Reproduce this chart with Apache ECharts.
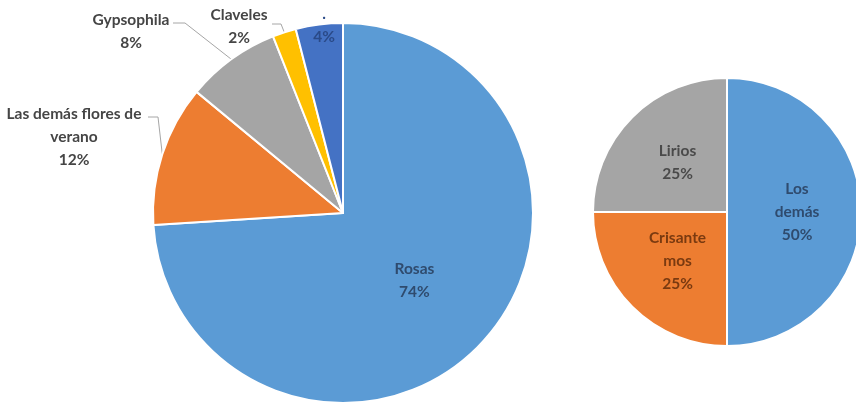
<!DOCTYPE html>
<html>
<head>
<meta charset="utf-8">
<script src="https://cdn.jsdelivr.net/npm/echarts@6/dist/echarts.min.js"></script>
<style>
  html, body { margin: 0; padding: 0; background: #ffffff; }
  #chart { width: 856px; height: 405px; }
</style>
</head>
<body>
<div id="chart"></div>
<script>
// Flower shares: main breakdown and the detail of "Los demás"
const mainNames = ['Rosas', 'Las demás flores de\nverano', 'Gypsophila', 'Claveles', '.'];
const mainValues = [74, 12, 8, 2, 4];

const subNames = ['Los\ndemás', 'Crisante\nmos', 'Lirios'];
const subValues = [50, 25, 25];

// Styling
const mainColors = ['#5B9BD5', '#ED7D31', '#A5A5A5', '#FFC000', '#4472C4'];
const subColors = ['#5B9BD5', '#ED7D31', '#A5A5A5'];
const outerText = '#454545';
const insideText = {
  'Rosas': '#2f4b6e',
  'Los\ndemás': '#2f4b6e',
  'Crisante\nmos': '#7a3a10',
  'Lirios': '#4a4a4a'
};
const font = { fontFamily: 'Lato', fontWeight: 'bold', fontSize: 15.5, lineHeight: 23 };

// Placement of the labels that sit outside the main pie (text centre + leader bend)
const outerPlacement = {
  'Las demás flores de\nverano': { x: 74, y: 137, bend: [[148, 117], [158, 117]] },
  'Gypsophila': { x: 131, y: 31, bend: [[173, 23], [185, 23]] },
  'Claveles': { x: 239, y: 26, bend: [[272, 24], [281, 24]] },
  '.': { x: 324, y: 25, bend: null }
};

const mainData = mainNames.map((name, i) => {
  const item = { name: name, value: mainValues[i], itemStyle: { color: mainColors[i] } };
  if (insideText[name]) {
    item.label = { position: 'inside', color: insideText[name] };
    item.labelLine = { show: false };
  } else if (!outerPlacement[name].bend) {
    item.label = { color: '#2a4a88' };
    item.labelLine = { show: false };
  }
  return item;
});

const subData = subNames.map((name, i) => ({
  name: name,
  value: subValues[i],
  itemStyle: { color: subColors[i] },
  label: { color: insideText[name] }
}));

const chart = echarts.init(document.getElementById('chart'), null, { renderer: 'canvas' });
chart.setOption({
  backgroundColor: '#ffffff',
  animation: false,
  series: [
    {
      type: 'pie',
      center: [343, 213],
      radius: 190,
      startAngle: 90,
      clockwise: true,
      avoidLabelOverlap: false,
      itemStyle: { borderColor: '#ffffff', borderWidth: 2 },
      label: Object.assign({
        show: true,
        position: 'outside',
        formatter: '{b}\n{d}%',
        color: outerText,
        align: 'center'
      }, font),
      labelLine: { show: true, lineStyle: { color: '#a6a6a6', width: 1 } },
      labelLayout: function (params) {
        const cfg = outerPlacement[mainNames[params.dataIndex]];
        if (!cfg) return {};
        const out = { x: cfg.x, y: cfg.y, align: 'center', verticalAlign: 'middle' };
        if (cfg.bend && params.labelLinePoints) {
          out.labelLinePoints = [cfg.bend[0], cfg.bend[1], params.labelLinePoints[0]];
        }
        return out;
      },
      emphasis: { disabled: true },
      data: mainData
    },
    {
      type: 'pie',
      center: [727, 212],
      radius: 134,
      startAngle: 90,
      clockwise: true,
      itemStyle: { borderColor: '#ffffff', borderWidth: 2 },
      label: Object.assign({
        show: true,
        position: 'inside',
        formatter: '{b}\n{d}%',
        align: 'center'
      }, font),
      labelLine: { show: false },
      emphasis: { disabled: true },
      data: subData
    }
  ]
});
</script>
</body>
</html>
